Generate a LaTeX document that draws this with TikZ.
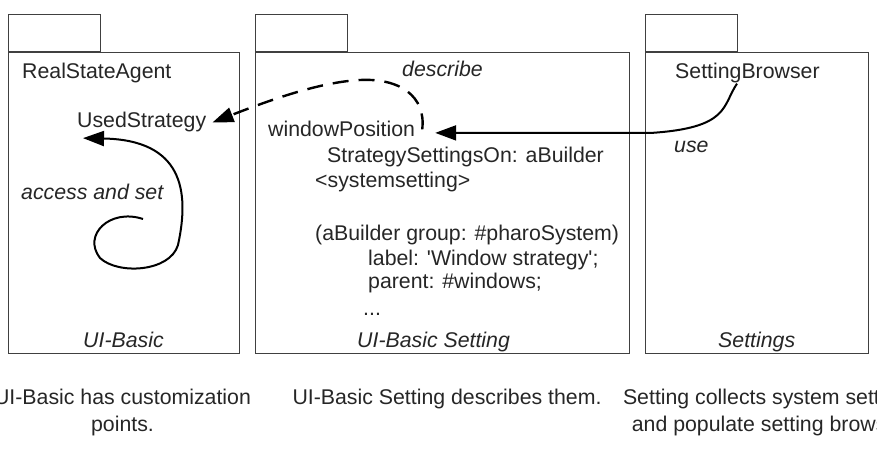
\documentclass[tikz,border=0pt]{standalone}
\usepackage{fontspec}
\setmainfont{Liberation Sans}
\usetikzlibrary{arrows.meta,calc}
\newcommand\pkgfont{\fontsize{21.3}{27}\selectfont}

\begin{document}
\begin{tikzpicture}[x=1pt,y=-1pt,font=\pkgfont,
        pkg/.style={draw=black!75,line width=1.4pt,fill=white,inner sep=0pt},
        lbl/.style={inner sep=0pt,text=black!85,anchor=base west},
        captext/.style={inner sep=0pt,text=black!85,align=center,anchor=base},
        link/.style={line width=2pt,-{Triangle[length=21pt,width=15pt]}}]
        \useasboundingbox (0,0) rectangle (877,449);
        % the three packages
        \node[pkg,anchor=north west,minimum width=231,minimum height=301] (basic) at (8,52) {};
        \node[pkg,anchor=south west,minimum width=92,minimum height=37] (basictab) at (basic.north west) {};
        \node[pkg,anchor=north west,minimum width=374,minimum height=301] (setting) at (255,52) {};
        \node[pkg,anchor=south west,minimum width=92,minimum height=37] (settingtab) at (setting.north west) {};
        \node[pkg,anchor=north west,minimum width=223,minimum height=301] (settings) at (645,52) {};
        \node[pkg,anchor=south west,minimum width=92,minimum height=37] (settingstab) at (settings.north west) {};
        % texts
        \node[lbl] (agent) at (22,79) {RealStateAgent};
        \node[lbl] (us) at (77,128) {UsedStrategy};
        \node[lbl,font=\pkgfont\itshape] (access) at (21,199) {access and set};
        \node[lbl,font=\pkgfont\itshape] (basicname) at (83,347) {UI-Basic};
        \node[lbl,font=\pkgfont\itshape] (describe) at (402,77) {describe};
        \node[lbl] (wp) at (268,137) {windowPosition};
        \node[lbl] (code1) at (327,163) {StrategySettingsOn: aBuilder};
        \node[lbl] (code2) at (315,187) {<systemsetting>};
        \node[lbl] (code3) at (315,240) {(aBuilder group: \#pharoSystem)};
        \node[lbl] (code4) at (368,265) {label: \textquotesingle Window strategy\textquotesingle;};
        \node[lbl] (code5) at (368,288) {parent: \#windows;};
        \node[lbl] (code6) at (363,315) {...};
        \node[lbl,font=\pkgfont\itshape] (settingname) at (357,347) {UI-Basic Setting};
        \node[lbl] (sb) at (675,79) {SettingBrowser};
        \node[lbl,font=\pkgfont\itshape] (use) at (674,153) {use};
        \node[lbl,font=\pkgfont\itshape] (settingsname) at (718,347) {Settings};
        % captions
        \node[captext] (capbasic) at (122.5,431) {UI-Basic has customization\\points.};
        \node[captext] (capsetting) at (447,404) {UI-Basic Setting describes them.};
        \node[captext] (capsettings) at (771,431) {Setting collects system settings\\and populate setting browser.};
        % connectors
        \coordinate (loopstart) at (143,219);
        \draw[link] (loopstart) .. controls (110,208) and (82,235) .. (100,258)
            .. controls (118,275) and (170,272) .. (178,245)
            .. controls (190,190) and (182,140) .. ($(us.south west)+(6,5.5)$);
        \draw[link,dash pattern=on 16pt off 10pt,line width=2.4pt] ($(wp.east)+(7,0)$)
            .. controls +(4,-33) and (400,78) .. (360,80)
            .. controls (320,82) and (270,100) .. ($(us.east)+(6,0)$);
        \draw[link] ($(sb.south west)+(62,0)$) .. controls +(-15,22) and (730,128) .. (650,133)
            -- ($(wp.east)+(20,3.5)$);
    \end{tikzpicture}
\end{document}
